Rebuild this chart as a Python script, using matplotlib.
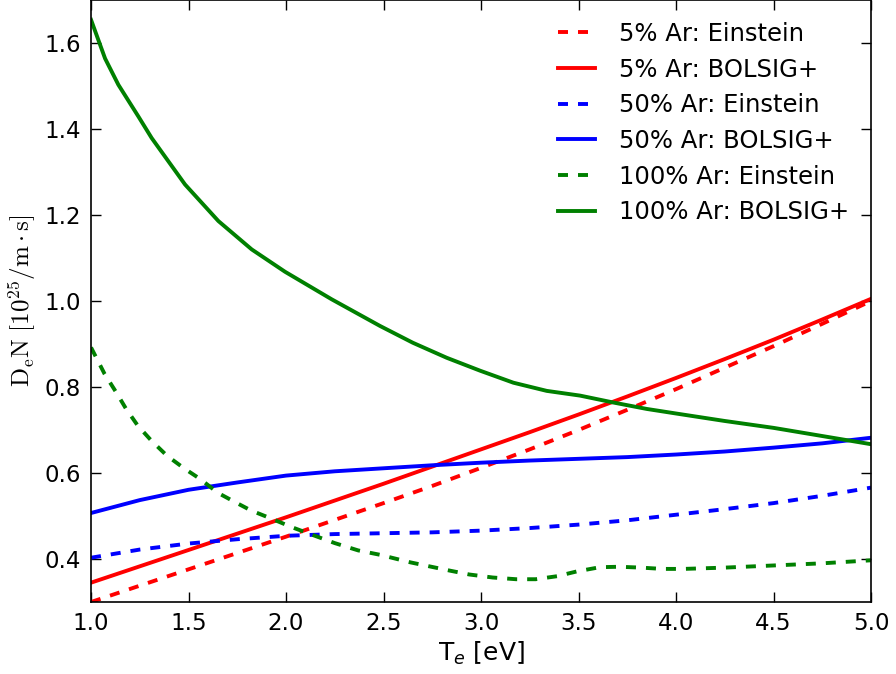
import numpy as np
import matplotlib
matplotlib.use('Agg')
import matplotlib.pyplot as plt

# Te grid (eV) for the red and blue curves
Te = [1.0, 1.25, 1.5, 1.75, 2.0, 2.25, 2.5, 2.75, 3.0, 3.25, 3.5, 3.75, 4.0, 4.25, 4.5, 4.75, 5.0]

# D_e N in units of 1e25 /m.s
ar5_einstein = [0.300, 0.338, 0.376, 0.414, 0.452, 0.491, 0.530, 0.570, 0.612, 0.655, 0.700, 0.747, 0.795, 0.845, 0.895, 0.947, 1.000]
ar5_bolsig = [0.345, 0.383, 0.421, 0.459, 0.497, 0.536, 0.575, 0.615, 0.655, 0.695, 0.736, 0.778, 0.821, 0.865, 0.910, 0.957, 1.005]
ar50_einstein = [0.403, 0.422, 0.436, 0.446, 0.454, 0.458, 0.460, 0.462, 0.466, 0.472, 0.480, 0.490, 0.503, 0.516, 0.530, 0.547, 0.566]
ar50_bolsig = [0.507, 0.537, 0.561, 0.578, 0.594, 0.604, 0.611, 0.618, 0.624, 0.629, 0.633, 0.637, 0.643, 0.650, 0.659, 0.669, 0.682]

Te_ar100_e = [1.0, 1.07, 1.13, 1.18, 1.24, 1.31, 1.39, 1.48, 1.56, 1.65, 1.74, 1.82, 1.93, 2.03, 2.13, 2.25, 2.37, 2.48,
              2.64, 2.84, 2.94, 3.06, 3.18, 3.28, 3.39, 3.49, 3.61, 3.71, 3.82, 3.93, 4.04, 4.25, 4.5, 4.75, 5.0]
ar100_einstein = [0.892, 0.830, 0.787, 0.749, 0.710, 0.675, 0.640, 0.610, 0.586, 0.554, 0.532, 0.513, 0.493, 0.474, 0.457, 0.437, 0.420, 0.410,
                  0.392, 0.373, 0.364, 0.357, 0.353, 0.353, 0.360, 0.371, 0.381, 0.382, 0.380, 0.377, 0.377, 0.380, 0.385, 0.390, 0.397]

Te_ar100_b = [1.0, 1.072, 1.14, 1.243, 1.311, 1.482, 1.653, 1.824, 1.995, 2.234, 2.482, 2.65, 2.824, 2.995,
              3.166, 3.337, 3.508, 3.678, 3.85, 4.02, 4.25, 4.5, 4.75, 5.0]
ar100_bolsig = [1.654, 1.564, 1.503, 1.429, 1.379, 1.271, 1.186, 1.120, 1.068, 1.004, 0.942, 0.903, 0.868, 0.838,
                0.810, 0.791, 0.780, 0.764, 0.749, 0.737, 0.721, 0.705, 0.686, 0.667]

plt.rcParams['lines.scale_dashes'] = False

fig = plt.figure(figsize=(8.96, 6.74), dpi=100)
ax = fig.add_axes([0.1016, 0.1068, 0.8705, 0.8932])

lw = 2.8
dash = (7.2, 7.2)
ax.plot(Te, ar5_einstein, color='red', lw=lw, ls='--', dashes=dash, label='5% Ar: Einstein')
ax.plot(Te, ar5_bolsig, color='red', lw=lw, label='5% Ar: BOLSIG+')
ax.plot(Te, ar50_einstein, color='blue', lw=lw, ls='--', dashes=dash, label='50% Ar: Einstein')
ax.plot(Te, ar50_bolsig, color='blue', lw=lw, label='50% Ar: BOLSIG+')
ax.plot(Te_ar100_e, ar100_einstein, color='green', lw=lw, ls='--', dashes=dash, label='100% Ar: Einstein')
ax.plot(Te_ar100_b, ar100_bolsig, color='green', lw=lw, label='100% Ar: BOLSIG+')

ax.set_xlim(1.0, 5.0)
ax.set_ylim(0.3, 1.7)
ax.set_xticks(np.arange(1.0, 5.01, 0.5))
ax.set_yticks(np.arange(0.4, 1.61, 0.2))
ax.xaxis.set_major_formatter(matplotlib.ticker.FormatStrFormatter('%.1f'))
ax.yaxis.set_major_formatter(matplotlib.ticker.FormatStrFormatter('%.1f'))
ax.tick_params(direction='in', top=True, right=True, length=7, width=1, labelsize=16.5, pad=7)
for s in ax.spines.values():
    s.set_linewidth(1.2)

ax.set_xlabel('T$_e$ [eV]', fontsize=18)
ax.set_ylabel(r'$\mathrm{D_e N\ [10^{25}/m \cdot s]}$', fontsize=18, math_fontfamily='cm')

ax.legend(loc='upper right', frameon=False, fontsize=17.5, handlelength=1.5,
          handletextpad=1.0, labelspacing=0.48)

fig.savefig('out.png', dpi=100)
